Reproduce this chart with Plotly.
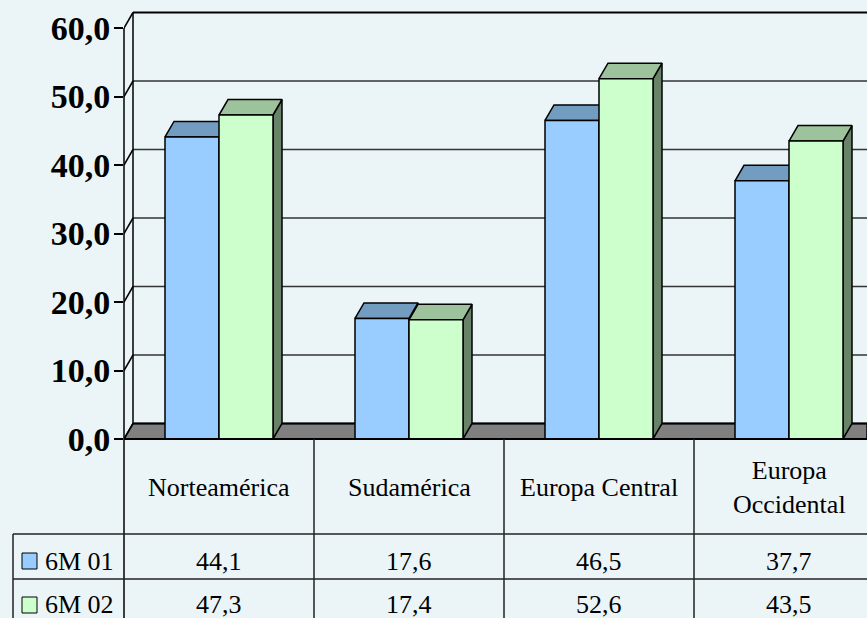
import plotly.graph_objects as go

# ---------------- data ----------------
categories = ["Norteamérica", "Sudamérica", "Europa Central", "Europa<br>Occidental"]
series_names = ["6M 01", "6M 02"]
values_6m01 = [44.1, 17.6, 46.5, 37.7]
values_6m02 = [47.3, 17.4, 52.6, 43.5]
y_ticks = [0, 10, 20, 30, 40, 50, 60]
y_tick_labels = ["0,0", "10,0", "20,0", "30,0", "40,0", "50,0", "60,0"]

# ---------------- style / geometry ----------------
W, H = 867, 618
ML, MT, MB, MR = 124, 11, 179, 0
PW, PH = W - ML - MR, H - MT - MB
CAT_PX = 190.0          # pixel width of a category slot
VAL_PX = 6.85           # pixels per value unit
XMIN = -0.5
XMAX = XMIN + PW / CAT_PX
YMIN = 0.0
YMAX = PH / VAL_PX
DX = 9.0 / CAT_PX       # depth offset (x)
DY = 15.5 / VAL_PX      # depth offset (y)
BAR_W = 54.0 / CAT_PX

BG = "#EBF5F7"
BLUE_FRONT, BLUE_TOP, BLUE_SIDE = "#99CCFF", "#729CC0", "#5F82A0"
GREEN_FRONT, GREEN_TOP, GREEN_SIDE = "#CCFFCC", "#9DC39D", "#688368"
FLOOR = "#808080"
FONT = "Liberation Serif"

series = [
    (series_names[0], values_6m01, -BAR_W, BLUE_FRONT, BLUE_TOP, BLUE_SIDE),
    (series_names[1], values_6m02, 0.0, GREEN_FRONT, GREEN_TOP, GREEN_SIDE),
]


def fmt(v):
    return f"{v:.1f}".replace(".", ",")


def px_x(px):
    return (px - ML) / PW


def px_y(py):
    return (H - MB - py) / PH


def cat_x(i):
    return (i - XMIN) / (XMAX - XMIN)


def val_y(v):
    return (v - YMIN) / (YMAX - YMIN)


fig = go.Figure()

# floor
fig.add_trace(go.Scatter(
    x=[XMIN, XMAX, XMAX, XMIN + DX, XMIN], y=[0, 0, DY, DY, 0],
    mode="lines", fill="toself", fillcolor=FLOOR,
    line=dict(color="black", width=1.5), hoverinfo="skip", showlegend=False))

# back-wall gridlines and connectors
gx, gy = [], []
for t in y_ticks[1:-1]:
    gx += [XMIN + DX, XMAX, None]
    gy += [t + DY, t + DY, None]
fig.add_trace(go.Scatter(x=gx, y=gy, mode="lines",
                         line=dict(color="#333333", width=1.5),
                         hoverinfo="skip", showlegend=False))
fig.add_trace(go.Scatter(x=[XMIN + DX, XMAX, None, XMIN + DX, XMAX],
                         y=[y_ticks[-1] + DY, y_ticks[-1] + DY, None, DY, DY],
                         mode="lines", line=dict(color="black", width=2),
                         hoverinfo="skip", showlegend=False))
cx, cy = [], []
for t in y_ticks:
    cx += [XMIN, XMIN + DX, None]
    cy += [t, t + DY, None]
cx += [XMIN + DX, XMIN + DX]
cy += [DY, y_ticks[-1] + DY]
fig.add_trace(go.Scatter(x=cx, y=cy, mode="lines",
                         line=dict(color="black", width=1.5),
                         hoverinfo="skip", showlegend=False))

# top and side faces (base axes, below the front faces)
for name, vals, off, front, top, side in series:
    tx, ty, sx, sy = [], [], [], []
    for i, v in enumerate(vals):
        x0, x1 = i + off, i + off + BAR_W
        tx += [x0, x1, x1 + DX, x0 + DX, x0, None]
        ty += [v, v, v + DY, v + DY, v, None]
        sx += [x1, x1 + DX, x1 + DX, x1, x1, None]
        sy += [v, v + DY, DY, 0, v, None]
    fig.add_trace(go.Scatter(x=sx, y=sy, mode="lines", fill="toself", fillcolor=side,
                             line=dict(color="black", width=1.5),
                             hoverinfo="skip", showlegend=False))
    fig.add_trace(go.Scatter(x=tx, y=ty, mode="lines", fill="toself", fillcolor=top,
                             line=dict(color="black", width=1.5),
                             hoverinfo="skip", showlegend=False))

# front faces (overlay axes so they are drawn on top)
for name, vals, off, front, top, side in series:
    fig.add_trace(go.Bar(
        x=list(range(len(categories))), y=vals, width=BAR_W, offset=off,
        marker=dict(color=front, line=dict(color="black", width=1.5)),
        name=name, xaxis="x2", yaxis="y2", showlegend=False))

shapes = []
LC = "#222222"
bottom = px_y(H + 5)
# front axis / table left line
shapes.append(dict(type="line", xref="paper", yref="paper", x0=0, x1=0,
                   y0=val_y(y_ticks[-1]), y1=bottom, line=dict(color="black", width=1.5)))
# floor front edge / table top
shapes.append(dict(type="line", xref="paper", yref="paper", x0=0, x1=1.01,
                   y0=0, y1=0, line=dict(color="black", width=2)))
# table row lines
for py in (534, 579):
    shapes.append(dict(type="line", xref="paper", yref="paper", x0=px_x(13), x1=1.01,
                       y0=px_y(py), y1=px_y(py), line=dict(color=LC, width=1.5)))
shapes.append(dict(type="line", xref="paper", yref="paper", x0=px_x(13), x1=px_x(13),
                   y0=px_y(534), y1=bottom, line=dict(color=LC, width=1.5)))
for i in range(len(categories) - 1):
    xp = cat_x(i + 0.5)
    shapes.append(dict(type="line", xref="paper", yref="paper", x0=xp, x1=xp,
                       y0=0, y1=bottom, line=dict(color=LC, width=1.5)))
# legend keys
for (name, vals, off, front, top, side), (ky0, ky1) in zip(series, [(553, 569), (597, 613)]):
    shapes.append(dict(type="rect", xref="paper", yref="paper",
                       x0=px_x(22), x1=px_x(37), y0=px_y(ky1), y1=px_y(ky0),
                       fillcolor=front, line=dict(color="black", width=1)))

annotations = []
tfont = dict(family=FONT, size=26, color="black")
for i, c in enumerate(categories):
    annotations.append(dict(xref="paper", yref="paper", x=cat_x(i), y=px_y(488),
                            text=c, showarrow=False, xanchor="center", yanchor="middle",
                            font=tfont))
for (name, vals, *_), py in zip(series, [561, 604]):
    annotations.append(dict(xref="paper", yref="paper", x=px_x(43), y=px_y(py),
                            text=name, showarrow=False, xanchor="left", yanchor="middle",
                            font=tfont))
    for i, v in enumerate(vals):
        annotations.append(dict(xref="paper", yref="paper", x=cat_x(i), y=px_y(py),
                                text=fmt(v), showarrow=False, xanchor="center",
                                yanchor="middle", font=tfont))

axis_common = dict(showgrid=False, zeroline=False, showline=False)
fig.update_layout(
    width=W, height=H,
    margin=dict(l=ML, r=MR, t=MT, b=MB, pad=0),
    paper_bgcolor=BG, plot_bgcolor=BG,
    barmode="overlay",
    showlegend=False,
    xaxis=dict(range=[XMIN, XMAX], visible=False, fixedrange=True, **axis_common),
    yaxis=dict(range=[YMIN, YMAX], tickvals=y_ticks, ticktext=y_tick_labels,
               ticks="outside", ticklen=9, tickwidth=1.5, tickcolor="black",
               ticklabelstandoff=-3,
               tickfont=dict(family=FONT, size=34, color="black", weight="bold"),
               fixedrange=True, **axis_common),
    xaxis2=dict(range=[XMIN, XMAX], overlaying="x", visible=False, **axis_common),
    yaxis2=dict(range=[YMIN, YMAX], overlaying="y", visible=False, **axis_common),
    shapes=shapes, annotations=annotations,
)

fig.write_html("out.html")
